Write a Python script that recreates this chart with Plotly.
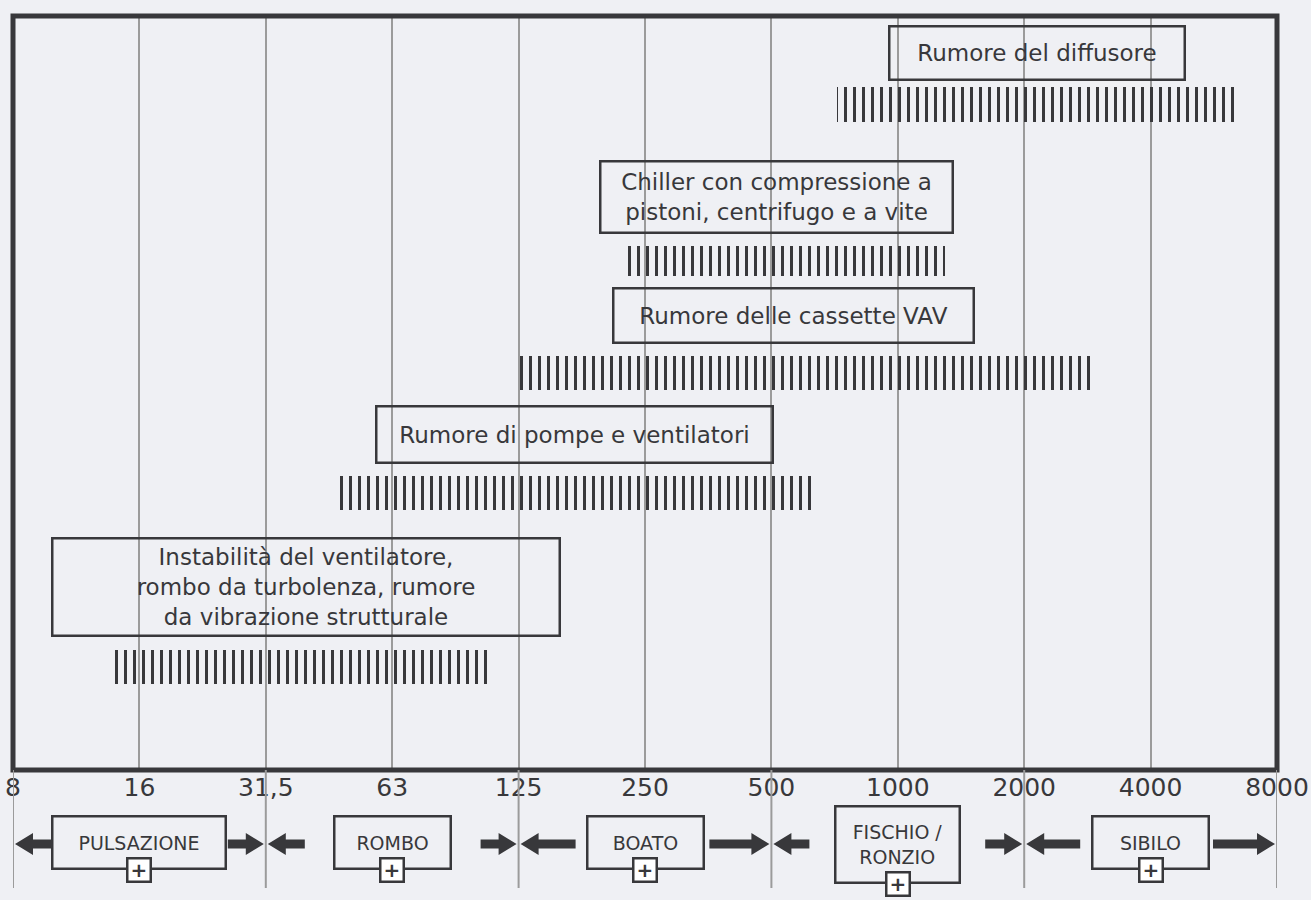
import math
import plotly.graph_objects as go

# noise sources and the frequency range they cover (Hz)
SOURCES = [
    "Instabilità del ventilatore,<br>rombo da turbolenza, rumore<br>da vibrazione strutturale",
    "Rumore di pompe e ventilatori",
    "Rumore delle cassette VAV",
    "Chiller con compressione a<br>pistoni, centrifugo e a vite",
    "Rumore del diffusore",
]
FREQ_LOW = [13.5, 45.5, 123, 221, 715]
FREQ_HIGH = [105, 635, 2967, 1294, 6422]

# octave band centres and their nominal labels
OCTAVE_HZ = [7.8125, 15.625, 31.25, 62.5, 125, 250, 500, 1000, 2000, 4000, 8000]
OCTAVE_LABELS = ["8", "16", "31,5", "63", "125", "250", "500", "1000", "2000", "4000", "8000"]

# subjective noise character and its band limits
BAND_NAMES = ["PULSAZIONE", "ROMBO", "BOATO", "FISCHIO /<br>RONZIO", "SIBILO"]
BAND_EDGES_HZ = [7.8125, 31.25, 125, 500, 2000, 8000]

BG = "#eff0f4"
DARK = "#38383b"
GRID = "#9b9b9b"
FONT = "DejaVu Sans"

# layout of the rows (y in px from top of frame)
ROW_Y = [651, 477, 357, 245, 88.5]
BAR_H = [34, 34, 34, 30, 35]
BOX_W = [509, 398, 362, 354, 297]
BOX_H = [99, 58, 56, 73, 55]
BOX_DX = [6, 0, -12, -7, 0]
BOX_GAP = [14, 13, 13, 13, 7]

# bottom band boxes
BAND_BOX_W = [175, 118, 118, 126, 118]
BAND_BOX_H = [54, 54, 54, 78, 54]
ARROW_LEN = [(37, 36), (37, 36), (55, 60), (36, 37), (54, 62)]

PLOT_TOP, PLOT_BOTTOM = 16, 770
PLOT_H = PLOT_BOTTOM - PLOT_TOP


def paper_y(px):
    return (PLOT_BOTTOM - px) / PLOT_H


fig = go.Figure()

fig.add_trace(go.Bar(
    orientation="h",
    y=ROW_Y,
    base=FREQ_LOW,
    x=[hi - lo for lo, hi in zip(FREQ_LOW, FREQ_HIGH)],
    width=BAR_H,
    marker=dict(
        color=DARK,
        line=dict(width=0),
        pattern=dict(shape="|", size=9, solidity=0.33, fillmode="replace",
                     fgcolor=DARK, fgopacity=1, bgcolor="rgba(0,0,0,0)"),
    ),
    hoverinfo="skip",
    showlegend=False,
))

annotations = []
for i, text in enumerate(SOURCES):
    centre = (math.log10(FREQ_LOW[i]) + math.log10(FREQ_HIGH[i])) / 2
    annotations.append(dict(
        x=centre, y=ROW_Y[i], xref="x", yref="y",
        xanchor="center", yanchor="middle",
        xshift=BOX_DX[i],
        yshift=BAR_H[i] / 2 + BOX_GAP[i] + BOX_H[i] / 2,
        text=text, showarrow=False,
        font=dict(family=FONT, size=23, color=DARK),
        width=BOX_W[i] - 4, height=BOX_H[i] - 4, borderpad=0,
        bordercolor=DARK, borderwidth=2.5, align="center", valign="middle",
    ))

shapes = []
# frame
shapes.append(dict(type="rect", xref="paper", yref="paper", x0=0, x1=1, y0=0, y1=1,
                   line=dict(color=DARK, width=5), layer="above"))

# band boundaries extended below the frame
for e in BAND_EDGES_HZ:
    shapes.append(dict(type="line", xref="x", yref="paper", x0=e, x1=e,
                       y0=0, y1=paper_y(888), line=dict(color=GRID, width=2),
                       layer="above"))


def arrow_path(direction, length):
    tip = -2 * direction
    hb = tip - 18 * direction
    tail = tip - length * direction
    return (f"M {tip},0 L {hb},11 L {hb},4.5 L {tail},4.5 "
            f"L {tail},-4.5 L {hb},-4.5 L {hb},-11 Z")


arrow_y = paper_y(844)
for k, name in enumerate(BAND_NAMES):
    lo, hi = BAND_EDGES_HZ[k], BAND_EDGES_HZ[k + 1]
    left_len, right_len = ARROW_LEN[k]
    for anchor, direction, length in ((lo, -1, left_len), (hi, 1, right_len)):
        shapes.append(dict(
            type="path", xref="x", yref="paper",
            xsizemode="pixel", xanchor=anchor,
            ysizemode="pixel", yanchor=arrow_y,
            path=arrow_path(direction, length),
            fillcolor=DARK, line=dict(width=0), layer="above",
        ))

    centre = (math.log10(lo) + math.log10(hi)) / 2
    box_mid = 844 if BAND_BOX_H[k] > 60 else 842
    annotations.append(dict(
        x=centre, y=paper_y(box_mid), xref="x", yref="paper",
        xanchor="center", yanchor="middle",
        text=name, showarrow=False,
        font=dict(family=FONT, size=19, color=DARK),
        width=BAND_BOX_W[k] - 4, height=BAND_BOX_H[k] - 4, borderpad=0,
        bordercolor=DARK, borderwidth=2.5, align="center", valign="middle",
    ))
    box_bottom = box_mid + BAND_BOX_H[k] / 2
    annotations.append(dict(
        x=centre, y=paper_y(box_bottom + 1), xref="x", yref="paper",
        xanchor="center", yanchor="middle",
        text="<b>+</b>", showarrow=False,
        font=dict(family=FONT, size=20, color=DARK),
        width=21, height=21, borderpad=0, bgcolor="#ffffff",
        bordercolor=DARK, borderwidth=2.5, align="center", valign="middle",
    ))

fig.update_layout(
    width=1311, height=900,
    margin=dict(l=13, r=34, t=PLOT_TOP, b=900 - PLOT_BOTTOM, autoexpand=False),
    paper_bgcolor=BG, plot_bgcolor=BG,
    bargap=0,
    shapes=shapes,
    annotations=annotations,
    showlegend=False,
)
fig.update_xaxes(
    type="log", automargin=False,
    range=[math.log10(OCTAVE_HZ[0]), math.log10(OCTAVE_HZ[-1])],
    tickmode="array", tickvals=OCTAVE_HZ, ticktext=OCTAVE_LABELS,
    showgrid=True, gridcolor=GRID, gridwidth=2,
    ticks="", zeroline=False, showline=False,
    tickfont=dict(family=FONT, size=25, color=DARK),
)
fig.update_yaxes(range=[PLOT_H, 0], visible=False, showgrid=False, zeroline=False)

fig.write_html(
    "out.html",
    config={"displayModeBar": False},
    post_script="document.body.style.margin='0';document.body.style.background='%s';" % BG,
)
